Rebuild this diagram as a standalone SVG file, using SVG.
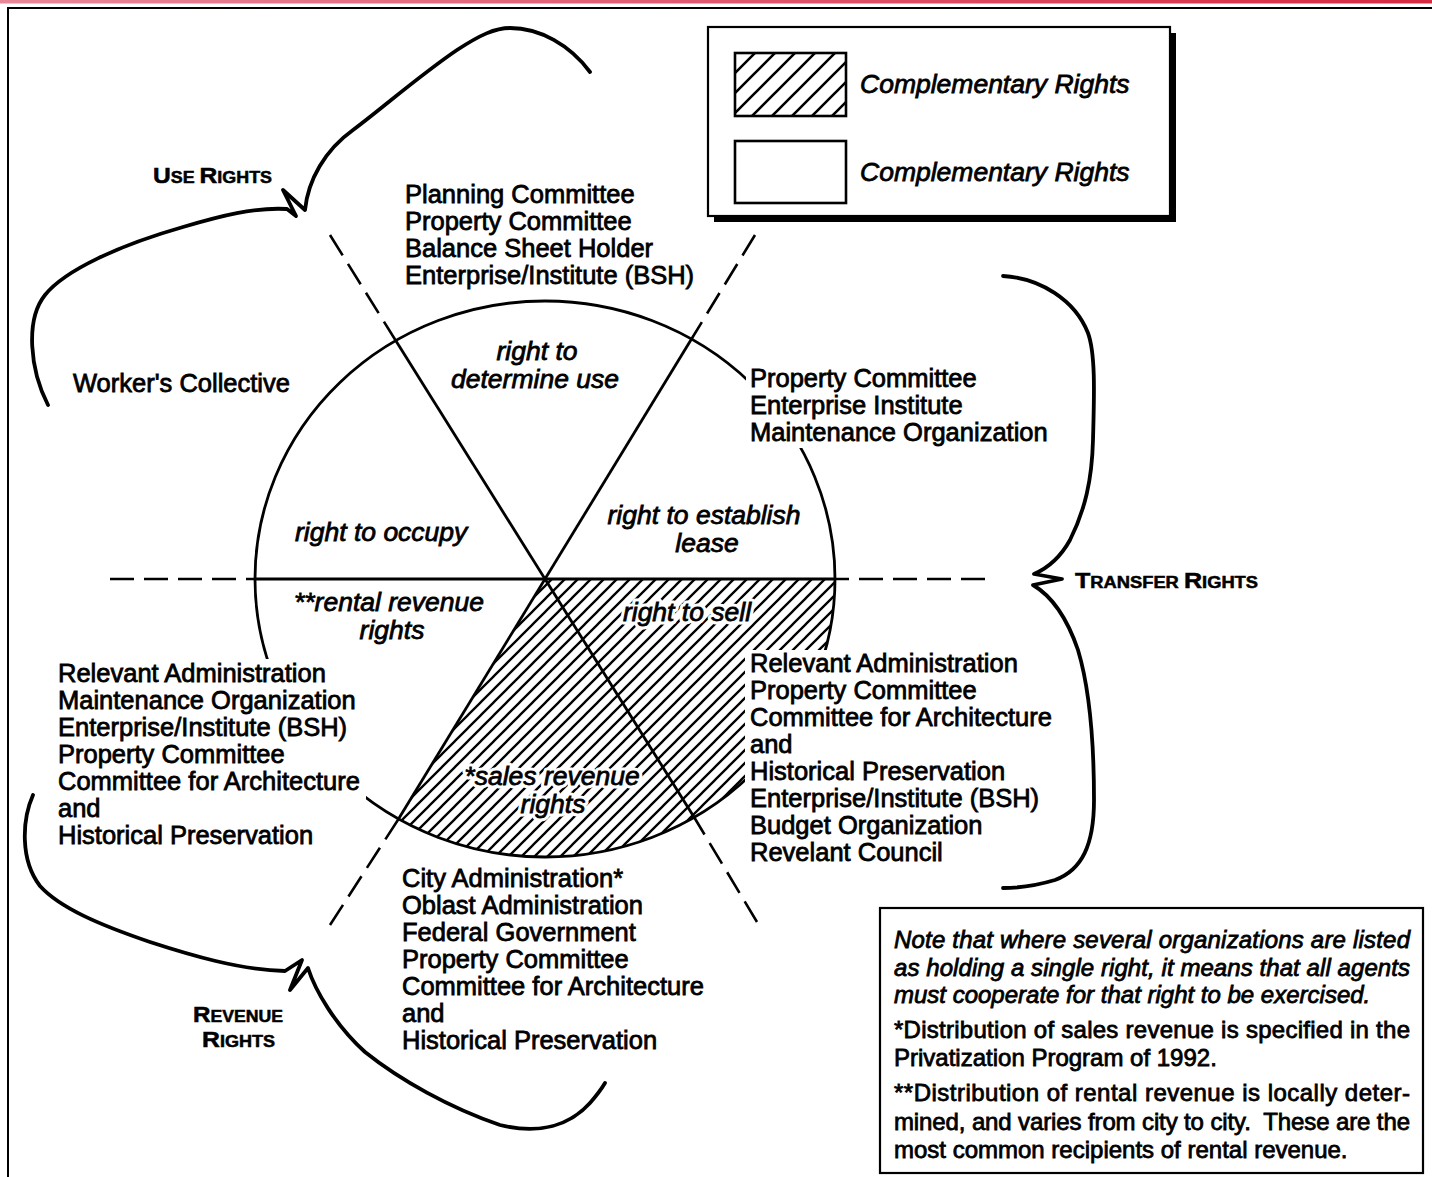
<svg xmlns="http://www.w3.org/2000/svg" width="1432" height="1177" viewBox="0 0 1432 1177">
<defs>
<linearGradient id="band" x1="0" y1="0" x2="1" y2="0">
<stop offset="0" stop-color="#e8879a"/>
<stop offset="1" stop-color="#d42a42"/>
</linearGradient>
<pattern id="hatch" patternUnits="userSpaceOnUse" width="13" height="13">
<path d="M-3,3 L3,-3 M0,13 L13,0 M10,16 L16,10" stroke="#000" stroke-width="2.3"/>
</pattern>
<pattern id="hatchL" patternUnits="userSpaceOnUse" width="20" height="20" x="735" y="53">
<path d="M-5,5 L5,-5 M0,20 L20,0 M15,25 L25,15" stroke="#000" stroke-width="2.6"/>
</pattern>
<style>
.t{font-family:"Liberation Sans",Arial,Helvetica,sans-serif;font-size:25.5px;fill:#000;stroke:#000;stroke-width:0.8px}
.i{font-style:italic;font-size:26.5px}
.n{font-size:24px}
.sc{font-weight:bold;stroke-width:0.5px}
.halo{fill:#fff;stroke:#fff;stroke-width:7px;stroke-linejoin:round}
.bg{fill:#fff;stroke:none}
.curve{fill:none;stroke:#000;stroke-width:3.8px;stroke-linecap:round;stroke-linejoin:round}
.dash{fill:none;stroke:#000;stroke-width:2.6px;stroke-dasharray:24 10}
.solid{fill:none;stroke:#000;stroke-width:2.8px}
.box{fill:#fff;stroke:#000;stroke-width:2.2px}
</style>
</defs>
<rect width="1432" height="1177" fill="#fff"/>
<g id="frame">
<rect x="0" y="0" width="1432" height="3.5" fill="url(#band)"/>
<path d="M1432,8 L8,8 L8,1177" fill="none" stroke="#000" stroke-width="2"/>
</g>

<g id="pie">
<path d="M545,579 L835,579 A290,278 0 0 1 398.5,819 Z" fill="url(#hatch)"/>
<ellipse cx="545" cy="579" rx="290" ry="278" class="solid"/>
<line x1="255" y1="579" x2="835" y2="579" class="solid"/>
<line x1="396" y1="341" x2="694" y2="817" class="solid"/>
<line x1="691.5" y1="339" x2="398.5" y2="819" class="solid"/>
<line x1="110" y1="579" x2="255" y2="579" class="dash"/>
<line x1="985" y1="579" x2="835" y2="579" class="dash"/>
<line x1="330" y1="235" x2="396" y2="341" class="dash"/>
<line x1="757" y1="922" x2="694" y2="817" class="dash"/>
<line x1="755" y1="235" x2="691.5" y2="339" class="dash"/>
<line x1="330" y1="925" x2="398.5" y2="819" class="dash"/>
</g>

<g id="connectors">
<path class="curve" d="M48,405 C30,370 25,320 45,295 C65,270 120,245 183,227 C220,216 255,207 287,209 L296,216 L283,190 L305,210 C308,180 325,150 353,130 C380,110 420,75 457,50 C480,35 495,28 510,28 C540,28 570,45 590,72"/>
<path class="curve" d="M1003,276 C1040,278 1075,300 1088,333 C1096,355 1094,400 1093,440 C1092,480 1085,510 1070,540 C1060,558 1048,568 1034,574 L1062,579 L1033,585 C1050,595 1066,615 1078,650 C1090,690 1094,740 1094,800 C1094,845 1082,870 1055,880 C1035,886 1015,888 1003,888"/>
<path class="curve" d="M33,795 C22,820 20,860 40,886 C60,908 100,925 150,942 C190,955 240,970 285,971 L302,960 L290,990 L308,968 C315,990 335,1025 365,1052 C400,1080 450,1108 500,1125 C540,1135 570,1125 590,1103 C597,1095 602,1088 605,1083"/>
</g>

<g id="legend">
<rect x="714" y="33" width="462" height="189" fill="#000"/>
<rect x="708" y="27" width="462" height="189" class="box"/>
<rect x="735" y="53" width="111" height="63" fill="url(#hatchL)" stroke="#000" stroke-width="2.6"/>
<rect x="735" y="141" width="111" height="62" fill="#fff" stroke="#000" stroke-width="2.6"/>
<text class="t i" x="860" y="93" font-size="25">Complementary Rights</text>
<text class="t i" x="860" y="181" font-size="25">Complementary Rights</text>
</g>

<g id="label-use-rights">
<text class="t sc" x="153" y="183" textLength="119" lengthAdjust="spacingAndGlyphs"><tspan font-size="22">U</tspan><tspan font-size="16">SE </tspan><tspan font-size="22">R</tspan><tspan font-size="16">IGHTS</tspan></text>
</g>
<g id="label-transfer-rights">
<text class="t sc" x="1075" y="588" textLength="183" lengthAdjust="spacingAndGlyphs"><tspan font-size="22">T</tspan><tspan font-size="16">RANSFER </tspan><tspan font-size="22">R</tspan><tspan font-size="16">IGHTS</tspan></text>
</g>
<g id="label-revenue-rights">
<text class="t sc" x="193" y="1022" textLength="90" lengthAdjust="spacingAndGlyphs"><tspan font-size="22">R</tspan><tspan font-size="16">EVENUE</tspan></text>
<text class="t sc" x="202" y="1047" textLength="73" lengthAdjust="spacingAndGlyphs"><tspan font-size="22">R</tspan><tspan font-size="16">IGHTS</tspan></text>
</g>

<g id="holders-determine-use">
<rect class="bg" x="400" y="180" width="298" height="112"/>
<text class="t" x="405" y="203">Planning Committee</text>
<text class="t" x="405" y="230">Property Committee</text>
<text class="t" x="405" y="257">Balance Sheet Holder</text>
<text class="t" x="405" y="284">Enterprise/Institute (BSH)</text>
</g>
<g id="holders-occupy">
<text class="t" x="73" y="392">Worker's Collective</text>
</g>
<g id="holders-lease">
<rect class="bg" x="746" y="366" width="308" height="82"/>
<text class="t" x="750" y="387">Property Committee</text>
<text class="t" x="750" y="414">Enterprise Institute</text>
<text class="t" x="750" y="441">Maintenance Organization</text>
</g>
<g id="holders-rental">
<rect class="bg" x="54" y="659" width="312" height="192"/>
<text class="t" x="58" y="682">Relevant Administration</text>
<text class="t" x="58" y="709">Maintenance Organization</text>
<text class="t" x="58" y="736">Enterprise/Institute (BSH)</text>
<text class="t" x="58" y="763">Property Committee</text>
<text class="t" x="58" y="790">Committee for Architecture</text>
<text class="t" x="58" y="817">and</text>
<text class="t" x="58" y="844">Historical Preservation</text>
</g>
<g id="holders-sell">
<rect class="bg" x="745" y="650" width="313" height="218"/>
<text class="t" x="750" y="672">Relevant Administration</text>
<text class="t" x="750" y="699">Property Committee</text>
<text class="t" x="750" y="726">Committee for Architecture</text>
<text class="t" x="750" y="753">and</text>
<text class="t" x="750" y="780">Historical Preservation</text>
<text class="t" x="750" y="807">Enterprise/Institute (BSH)</text>
<text class="t" x="750" y="834">Budget Organization</text>
<text class="t" x="750" y="861">Revelant Council</text>
</g>
<g id="holders-sales-revenue">
<text class="t" x="402" y="887">City Administration*</text>
<text class="t" x="402" y="914">Oblast Administration</text>
<text class="t" x="402" y="941">Federal Government</text>
<text class="t" x="402" y="968">Property Committee</text>
<text class="t" x="402" y="995">Committee for Architecture</text>
<text class="t" x="402" y="1022">and</text>
<text class="t" x="402" y="1049">Historical Preservation</text>
</g>

<g id="sector-labels">
<text class="t i" x="537" y="360" text-anchor="middle">right to</text>
<text class="t i" x="535" y="388" text-anchor="middle">determine use</text>
<text class="t i" x="295" y="541">right to occupy</text>
<text class="t i" x="704" y="524" text-anchor="middle">right to establish</text>
<text class="t i" x="707" y="552" text-anchor="middle">lease</text>
<text class="t i" x="389" y="611" text-anchor="middle">**rental revenue</text>
<text class="t i" x="392" y="639" text-anchor="middle">rights</text>
<text class="t i halo" x="687" y="621" text-anchor="middle">right to sell</text>
<text class="t i" x="687" y="621" text-anchor="middle">right to sell</text>
<text class="t i halo" x="552" y="785" text-anchor="middle">*sales revenue</text>
<text class="t i" x="552" y="785" text-anchor="middle">*sales revenue</text>
<text class="t i halo" x="553" y="813" text-anchor="middle">rights</text>
<text class="t i" x="553" y="813" text-anchor="middle">rights</text>
</g>

<g id="note">
<rect x="880" y="908" width="543" height="265" class="box"/>
<text class="t i n" x="894" y="948" textLength="516">Note that where several organizations are listed</text>
<text class="t i n" x="894" y="976" textLength="516">as holding a single right, it means that all agents</text>
<text class="t i n" x="894" y="1003">must cooperate for that right to be exercised.</text>
<text class="t n" x="894" y="1038" textLength="516">*Distribution of sales revenue is specified in the</text>
<text class="t n" x="894" y="1066">Privatization Program of 1992.</text>
<text class="t n" x="894" y="1101" textLength="516">**Distribution of rental revenue is locally deter-</text>
<text class="t n" x="894" y="1130" textLength="516">mined, and varies from city to city.&#160; These are the</text>
<text class="t n" x="894" y="1158">most common recipients of rental revenue.</text>
</g>
</svg>
